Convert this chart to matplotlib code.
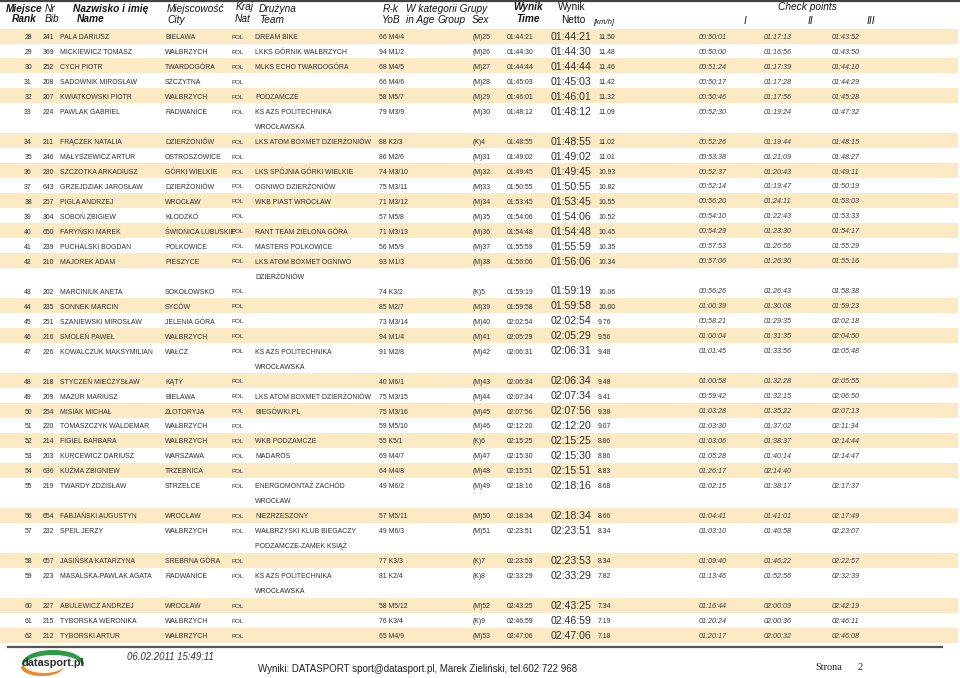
import matplotlib
matplotlib.use('Agg')
import numpy as np
import matplotlib.pyplot as plt
from matplotlib import font_manager as fm
from matplotlib.patches import Rectangle, Polygon

# ---------------- data ----------------
ranks = [28, 29, 30, 31, 32, 33, 34, 35, 36, 37, 38, 39, 40, 41, 42, 43, 44, 45,
         46, 47, 48, 49, 50, 51, 52, 53, 54, 55, 56, 57, 58, 59, 60, 61, 62]
bibs = [241, 369, 252, 208, 207, 224, 211, 246, 230, 643, 257, 304, 650, 239, 210,
        202, 235, 251, 216, 226, 218, 209, 254, 220, 214, 203, 636, 219, 654, 232,
        657, 223, 227, 215, 212]
names = ["PALA DARIUSZ", "MICKIEWICZ TOMASZ", "CYCH PIOTR", "SADOWNIK MIROSŁAW",
         "KWIATKOWSKI PIOTR", "PAWLAK GABRIEL", "FRĄCZEK NATALIA", "MAŁYSZEWICZ ARTUR",
         "SZCZOTKA ARKADIUSZ", "GRZEJDZIAK JAROSŁAW", "PIGLA ANDRZEJ", "SOBOŃ ZBIGIEW",
         "FARYŃSKI MAREK", "PUCHALSKI BOGDAN", "MAJOREK ADAM", "MARCINIUK ANETA",
         "SONNEK MARCIN", "SZANIEWSKI MIROSŁAW", "SMOLEŃ PAWEŁ", "KOWALCZUK MAKSYMILIAN",
         "STYCZEŃ MIECZYSŁAW", "MAZUR MARIUSZ", "MISIAK MICHAŁ", "TOMASZCZYK WALDEMAR",
         "FIGIEL BARBARA", "KURCEWICZ DARIUSZ", "KUŹMA ZBIGNIEW", "TWARDY ZDZISŁAW",
         "FABJAŃSKI AUGUSTYN", "SPEIL JERZY", "JASIŃSKA KATARZYNA", "MASALSKA-PAWLAK AGATA",
         "ABULEWICZ ANDRZEJ", "TYBORSKA WERONIKA", "TYBORSKI ARTUR"]
cities = ["BIELAWA", "WAŁBRZYCH", "TWARDOGÓRA", "SZCZYTNA", "WAŁBRZYCH", "RADWANICE",
          "DZIERŻONIÓW", "OSTROSZOWICE", "GÓRKI WIELKIE", "DZIERŻONIÓW", "WROCŁAW",
          "KŁODZKO", "ŚWIDNICA LUBUSKIE", "POLKOWICE", "PIESZYCE", "SOKOŁOWSKO", "SYCÓW",
          "JELENIA GÓRA", "WAŁBRZYCH", "WAŁCZ", "KĄTY", "BIELAWA", "ZŁOTORYJA",
          "WAŁBRZYCH", "WAŁBRZYCH", "WARSZAWA", "TRZEBNICA", "STRZELCE", "WROCŁAW",
          "WAŁBRZYCH", "SREBRNA GÓRA", "RADWANICE", "WROCŁAW", "WAŁBRZYCH", "WAŁBRZYCH"]
nats = ["POL"] * 35
teams = ["DREAM BIKE", "LKKS GÓRNIK WAŁBRZYCH", "MLKS ECHO TWARDOGÓRA", "", "PODZAMCZE",
         "KS AZS POLITECHNIKA\nWROCŁAWSKA", "LKS ATOM BOXMET DZIERŻONIÓW", "",
         "LKS SPÓJNIA GÓRKI WIELKIE", "OGNIWO DZIERŻONIÓW", "WKB PIAST WROCŁAW", "",
         "RANT TEAM ZIELONA GÓRA", "MASTERS POLKOWICE",
         "LKS ATOM BOXMET OGNIWO\nDZIERŻONIÓW", "", "", "", "",
         "KS AZS POLITECHNIKA\nWROCŁAWSKA", "", "LKS ATOM BOXMET DZIERŻONIÓW",
         "BIEGÓWKI.PL", "", "WKB PODZAMCZE", "MADAROS", "",
         "ENERGOMONTAŻ ZACHÓD\nWROCŁAW", "NIEZRZESZONY",
         "WAŁBRZYSKI KLUB BIEGACZY\nPODZAMCZE-ZAMEK KSIĄŻ", "",
         "KS AZS POLITECHNIKA\nWROCŁAWSKA", "", "", ""]
yob = [66, 94, 68, 66, 58, 79, 88, 86, 74, 75, 71, 57, 71, 56, 93, 74, 85, 73, 94, 91,
       40, 75, 75, 59, 55, 69, 64, 49, 57, 49, 77, 81, 58, 76, 65]
age_cat = ["M4/4", "M1/2", "M4/5", "M4/6", "M5/7", "M3/9", "K2/3", "M2/6", "M3/10",
           "M3/11", "M3/12", "M5/8", "M3/13", "M5/9", "M1/3", "K3/2", "M2/7", "M3/14",
           "M1/4", "M2/8", "M6/1", "M3/15", "M3/16", "M5/10", "K5/1", "M4/7", "M4/8",
           "M6/2", "M5/11", "M6/3", "K3/3", "K2/4", "M5/12", "K3/4", "M4/9"]
sex_group = ["(M)25", "(M)26", "(M)27", "(M)28", "(M)29", "(M)30", "(K)4", "(M)31",
             "(M)32", "(M)33", "(M)34", "(M)35", "(M)36", "(M)37", "(M)38", "(K)5",
             "(M)39", "(M)40", "(M)41", "(M)42", "(M)43", "(M)44", "(M)45", "(M)46",
             "(K)6", "(M)47", "(M)48", "(M)49", "(M)50", "(M)51", "(K)7", "(K)8",
             "(M)52", "(K)9", "(M)53"]
times = ["01:44:21", "01:44:30", "01:44:44", "01:45:03", "01:46:01", "01:48:12",
         "01:48:55", "01:49:02", "01:49:45", "01:50:55", "01:53:45", "01:54:06",
         "01:54:48", "01:55:59", "01:56:06", "01:59:19", "01:59:58", "02:02:54",
         "02:05:29", "02:06:31", "02:06:34", "02:07:34", "02:07:56", "02:12:20",
         "02:15:25", "02:15:30", "02:15:51", "02:18:16", "02:18:34", "02:23:51",
         "02:23:53", "02:33:29", "02:43:25", "02:46:59", "02:47:06"]
netto = ["01:44:21", "01:44:30", "01:44:44", "01:45:03", "01:46:01", "01:48:12",
         "01:48:55", "01:49:02", "01:49:45", "01:50:55", "01:53:45", "01:54:06",
         "01:54:48", "01:55:59", "01:56:06", "01:59:19", "01:59:58", "02:02:54",
         "02:05:29", "02:06:31", "02:06:34", "02:07:34", "02:07:56", "02:12:20",
         "02:15:25", "02:15:30", "02:15:51", "02:18:16", "02:18:34", "02:23:51",
         "02:23:53", "02:33:29", "02:43:25", "02:46:59", "02:47:06"]
speeds = ["11.50", "11.48", "11.46", "11.42", "11.32", "11.09", "11.02", "11.01",
          "10.93", "10.82", "10.55", "10.52", "10.45", "10.35", "10.34", "10.06",
          "10.00", "9.76", "9.56", "9.48", "9.48", "9.41", "9.38", "9.07", "8.86",
          "8.86", "8.83", "8.68", "8.66", "8.34", "8.34", "7.82", "7.34", "7.19", "7.18"]
cp1 = ["00:50:01", "00:50:00", "00:51:24", "00:50:17", "00:50:46", "00:52:30",
       "00:52:26", "00:53:38", "00:52:37", "00:52:14", "00:56:20", "00:54:10",
       "00:54:29", "00:57:53", "00:57:06", "00:56:26", "01:00:39", "00:58:21",
       "01:00:04", "01:01:45", "01:00:58", "00:59:42", "01:03:28", "01:03:30",
       "01:03:06", "01:05:28", "01:26:17", "01:02:15", "01:04:41", "01:03:10",
       "01:09:40", "01:13:46", "01:16:44", "01:20:24", "01:20:17"]
cp2 = ["01:17:13", "01:16:56", "01:17:39", "01:17:28", "01:17:56", "01:19:24",
       "01:19:44", "01:21:09", "01:20:43", "01:19:47", "01:24:11", "01:22:43",
       "01:23:30", "01:26:56", "01:26:30", "01:26:43", "01:30:08", "01:29:35",
       "01:31:35", "01:33:56", "01:32:28", "01:32:15", "01:35:22", "01:37:02",
       "01:38:37", "01:40:14", "02:14:40", "01:38:17", "01:41:01", "01:40:58",
       "01:46:22", "01:52:56", "02:00:09", "02:00:36", "02:00:32"]
cp3 = ["01:43:52", "01:43:50", "01:44:10", "01:44:29", "01:45:28", "01:47:32",
       "01:48:15", "01:48:27", "01:49:11", "01:50:19", "01:53:03", "01:53:33",
       "01:54:17", "01:55:29", "01:55:16", "01:58:38", "01:59:23", "02:02:18",
       "02:04:50", "02:05:48", "02:05:55", "02:06:50", "02:07:13", "02:11:34",
       "02:14:44", "02:14:47", "", "02:17:37", "02:17:49", "02:23:07",
       "02:22:57", "02:32:39", "02:42:19", "02:46:11", "02:46:08"]

# ---------------- fonts ----------------
avail = {f.name for f in fm.fontManager.ttflist}
SANS = 'Liberation Sans'
if 'Liberation Sans Narrow' in avail:
    NARROW, NS = 'Liberation Sans Narrow', 1.0
else:
    NARROW, NS = 'Liberation Sans', 0.82
SERIF = 'Liberation Serif'

BODY = '#2e2e2e'
HEAD = '#151515'
BAND = '#FCEAC4'

fig = plt.figure(figsize=(9.6, 6.78), dpi=100)
ax = fig.add_axes([0, 0, 1, 1])
ax.set_xlim(0, 960)
ax.set_ylim(678, 0)
ax.axis('off')


def T(x, y, s, size, family=SANS, style='normal', weight='normal', ha='left',
      color=BODY):
    ax.text(x, y, s, fontsize=size, family=family, style=style, weight=weight,
            ha=ha, va='baseline', color=color)


# header
ax.plot([0, 960], [1, 1], color='#444444', lw=1.6)
HS = 7.3
L1, L2 = 11.7, 22.3
T(24, L1, "Miejsce", HS, style='italic', weight='bold', ha='center', color=HEAD)
T(24, L2, "Rank", HS, style='italic', weight='bold', ha='center', color=HEAD)
T(45, L1, "Nr", HS, style='italic', color=HEAD)
T(45, L2, "Bib", HS, style='italic', color=HEAD)
T(73, L1, "Nazwisko i imię", HS, style='italic', weight='bold', color=HEAD)
T(77, L2, "Name", HS, style='italic', weight='bold', color=HEAD)
T(167, L1, "Miejscowość", HS, style='italic', color=HEAD)
T(167, L2 + 1, "City", HS, style='italic', color=HEAD)
T(236, 9.5, "Kraj", HS, style='italic', color=HEAD)
T(235, L2, "Nat", HS, style='italic', color=HEAD)
T(259, L1, "Drużyna", HS, style='italic', color=HEAD)
T(259, L2 + 1, "Team", HS, style='italic', color=HEAD)
T(383, L1, "R-k", HS, style='italic', color=HEAD)
T(382, L2 + 1, "YoB", HS, style='italic', color=HEAD)
T(406, L1, "W kategorii Grupy", HS, style='italic', color=HEAD)
T(406, L2 + 1, "in Age", HS, style='italic', color=HEAD)
T(437, L2 + 1, "Group", HS, style='italic', color=HEAD)
T(472, L2 + 1, "Sex", HS, style='italic', color=HEAD)
T(513, 10, "Wynik", HS, style='italic', weight='bold', color=HEAD)
T(516, L2, "Time", HS, style='italic', weight='bold', color=HEAD)
T(558, 10, "Wynik", HS, color=HEAD)
T(561, L2 + 1, "Netto", HS, color=HEAD)
T(593, 24.5, "[km/h]", 5.6, style='italic', color=HEAD)
T(807, 10, "Check points", HS, style='italic', ha='center', color=HEAD)
T(744, 24.5, "I", HS, style='italic', color=HEAD)
T(808, 24.5, "II", HS, style='italic', color=HEAD)
T(867, 24.5, "III", HS, style='italic', color=HEAD)

# rows
Y0, PITCH = 36.0, 14.98
BS = 6.0 * NS
line = 0
for i in range(len(ranks)):
    yc = Y0 + line * PITCH
    if i % 2 == 0:
        ax.add_patch(Rectangle((0, yc - 7.5), 958, 15, facecolor=BAND,
                               edgecolor='none', zorder=0))
    yb = yc + 3.0
    T(32, yb, str(ranks[i]), BS, family=NARROW, ha='right')
    T(43, yb, str(bibs[i]), BS, family=NARROW)
    T(60, yb, names[i], BS, family=NARROW)
    T(165, yb, cities[i], BS, family=NARROW)
    T(232, yb - 0.3, nats[i], 4.5, family=SANS)
    tl = teams[i].split("\n")
    for k, part in enumerate(tl):
        T(255, yb + k * PITCH, part, BS, family=NARROW)
    T(379, yb, f"{yob[i]} {age_cat[i]}", BS, family=NARROW)
    T(473, yb, sex_group[i], BS, family=NARROW)
    T(507, yb, times[i], BS, family=NARROW)
    T(551, yb + 0.8, netto[i], 7.6, family=SANS)
    T(598, yb, speeds[i], BS, family=NARROW)
    T(699, yb - 0.3, cp1[i], 5.2, style='italic', color='#3a3a3a')
    T(764, yb - 0.3, cp2[i], 5.2, style='italic', color='#3a3a3a')
    T(832, yb - 0.3, cp3[i], 5.2, style='italic', color='#3a3a3a')
    line += len(tl)

# bottom rule
ax.plot([8, 942], [647, 647], color='#555555', lw=1.6)


# footer logo (decorative crescents)
def crescent(c_out, ab_out, c_in, ab_in, th0, th1, color):
    th = np.linspace(th0, th1, 80)
    outer = np.c_[c_out[0] + ab_out[0] * np.cos(th), c_out[1] + ab_out[1] * np.sin(th)]
    inner = np.c_[c_in[0] + ab_in[0] * np.cos(th[::-1]),
                  c_in[1] + ab_in[1] * np.sin(th[::-1])]
    ax.add_patch(Polygon(np.vstack([outer, inner]), closed=True, facecolor=color,
                         edgecolor='none'))


crescent((53, 664), (31, 14), (53, 667), (30, 12), np.pi, 2 * np.pi, '#2f9a45')
crescent((42, 667), (21, 9), (44, 665), (20, 8), 0.15, np.pi, '#ef8a1e')
T(53, 666.5, "datasport.pl", 7.8, weight='bold', ha='center', color='#2b2b2b')

T(127, 660.5, "06.02.2011 15:49:11", 6.9, style='italic', color='#333333')
T(258, 672.5, "Wyniki: DATASPORT sport@datasport.pl, Marek Zieliński, tel.602 722 968",
  7.0, color='#222222')
T(815, 670.5, "Strona", 7.4, family=SERIF, color='#222222')
T(858, 670.5, "2", 7.4, family=SERIF, color='#222222')

fig.savefig('out.png', dpi=100)
